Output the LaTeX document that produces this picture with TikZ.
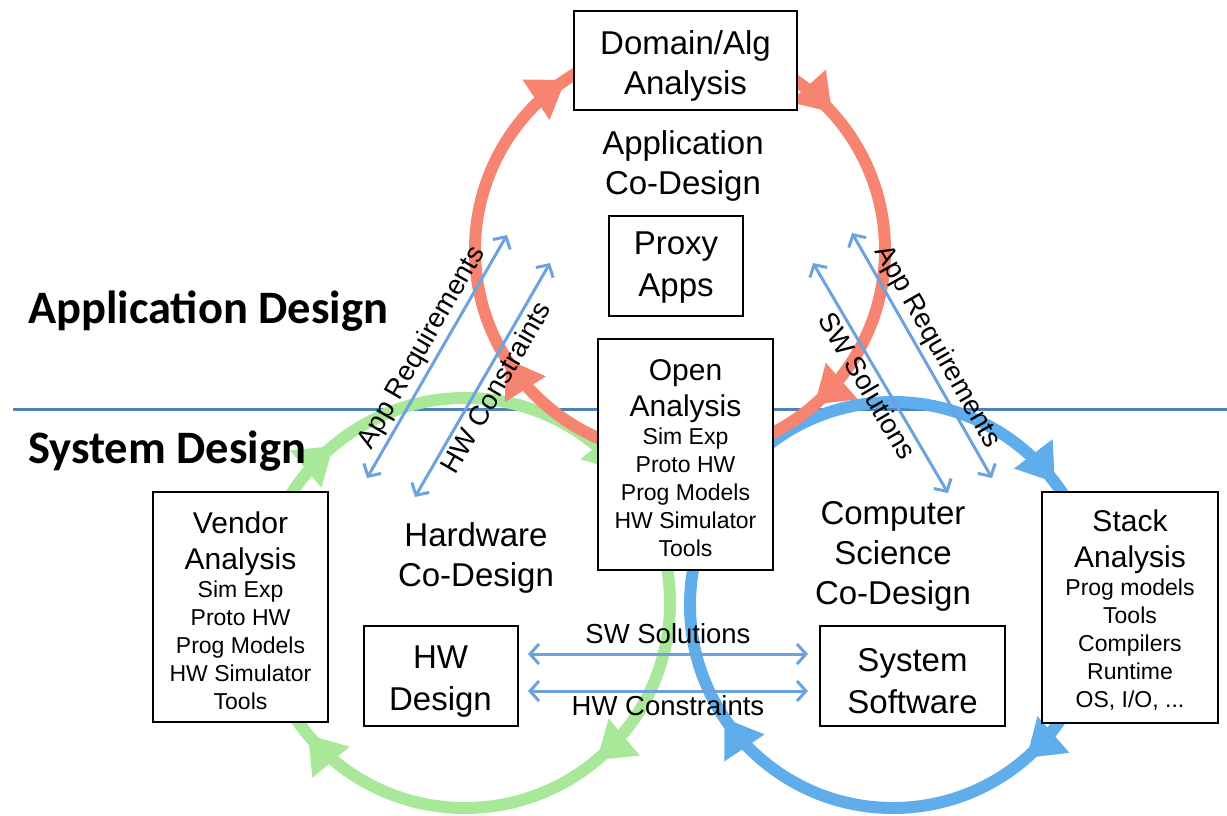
\documentclass[tikz,border=0pt]{standalone}
\usepackage{fontspec}
\setmainfont{Liberation Sans}
\newfontfamily\carlito{Carlito}
\usetikzlibrary{arrows.meta,decorations.markings}
\definecolor{redc}{RGB}{247,132,112}
\definecolor{greenc}{RGB}{168,232,152}
\definecolor{bluec}{RGB}{96,173,236}
\definecolor{arrc}{RGB}{108,162,222}
\definecolor{linec}{RGB}{79,129,189}
\newcommand\boxhead{\fontsize{30}{36}\selectfont}
\newcommand\boxsmall{\fontsize{23}{28}\selectfont}
\newcommand\boxbig{\fontsize{33}{40}\selectfont}
\newcommand\boxtxt[3]{\parbox{#1}{\centering\vspace*{#2}#3}}
\tikzset{
  ringtip/.tip={Triangle[length=36pt,width=46pt]},
  box/.style={draw=black, fill=white, line width=2pt, inner sep=0pt, align=center},
  big/.style={font=\fontsize{33}{40}\selectfont},
  lbl/.style={font=\fontsize{27.5}{33}\selectfont, inner sep=3pt},
  conn/.style={draw=arrc, line width=3pt, {Straight Barb[length=9pt,width=20pt]}-{Straight Barb[length=9pt,width=20pt]}},
  ring/.style={line width=12pt, postaction={decorate}},
  section/.style={font=\carlito\bfseries\fontsize{46.5}{56}\selectfont, anchor=base west, inner sep=0pt},
}
\begin{document}
\begin{tikzpicture}[x=1pt,y=-1pt]
\useasboundingbox (0,0) rectangle (1227,815);
% separator line
\draw[linec, line width=2.5pt] (13,409.5) -- (1227,409.5);
% green cycle (hardware), clockwise on the page
\draw[greenc, ring, decoration={markings,
  mark=at position 0.139 with {\arrow[greenc]{ringtip}},
  mark=at position 0.389 with {\arrow[greenc]{ringtip}},
  mark=at position 0.639 with {\arrow[greenc]{ringtip}},
  mark=at position 0.889 with {\arrow[greenc]{ringtip}}}]
  (465,603) ++(205,0) arc[start angle=0, end angle=360, radius=205];
% blue cycle (computer science)
\draw[bluec, ring, decoration={markings,
  mark=at position 0.136 with {\arrow[bluec]{ringtip}},
  mark=at position 0.406 with {\arrow[bluec]{ringtip}},
  mark=at position 0.639 with {\arrow[bluec]{ringtip}},
  mark=at position 0.897 with {\arrow[bluec]{ringtip}}}]
  (893,605) ++(203,0) arc[start angle=0, end angle=360, radius=203];
% red cycle (application)
\draw[redc, ring, decoration={markings,
  mark=at position 0.136 with {\arrow[redc]{ringtip}},
  mark=at position 0.411 with {\arrow[redc]{ringtip}},
  mark=at position 0.656 with {\arrow[redc]{ringtip}},
  mark=at position 0.883 with {\arrow[redc]{ringtip}}}]
  (680,250) ++(205,0) arc[start angle=0, end angle=360, radius=205];

% section labels
\node[section] (appdes) at (28,323) {Application Design};
\node[section] (sysdes) at (28,463) {System Design};

% boxes
\node[box, minimum width=223pt, minimum height=99pt] (dom) at (685.5,60.5)
  {\boxtxt{215pt}{11pt}{\boxbig Domain/Alg\\Analysis}};
\node[big, align=center] (appcd) at (683,166) {Application\\Co-Design};
\node[box, minimum width=134pt, minimum height=100pt] (proxy) at (676,266)
  {\boxtxt{128pt}{4pt}{\fontsize{33}{42}\selectfont Proxy\\Apps}};
\node[box, minimum width=175pt, minimum height=231pt] (open) at (685.5,454.5)
  {\boxtxt{170pt}{8pt}{\boxhead Open\\Analysis\par\boxsmall Sim Exp\\Proto HW\\Prog Models\\HW Simulator\\Tools}};
\node[box, minimum width=175pt, minimum height=230pt] (vendor) at (240.5,607)
  {\boxtxt{170pt}{7pt}{\boxhead Vendor\\Analysis\par\boxsmall Sim Exp\\Proto HW\\Prog Models\\HW Simulator\\Tools}};
\node[box, minimum width=176pt, minimum height=231pt] (stack) at (1130,607.5)
  {\boxtxt{170pt}{6pt}{\boxhead Stack\\Analysis\par\boxsmall Prog models\\Tools\\Compilers\\Runtime\\OS, I/O, ...}};
\node[big, align=center] (hwcd) at (476,558) {Hardware\\Co-Design};
\node[big, align=center] (cscd) at (893,556) {Computer\\Science\\Co-Design};
\node[box, minimum width=154pt, minimum height=100pt] (hwd) at (440.5,676)
  {\boxtxt{148pt}{11pt}{\fontsize{33}{42}\selectfont HW\\Design}};
\node[box, minimum width=185pt, minimum height=100pt] (sys) at (912.5,676)
  {\boxtxt{180pt}{11pt}{\fontsize{33}{42}\selectfont System\\Software}};

% connector end points
\coordinate (hs1) at (528,654);  \coordinate (hs2) at (808,654);
\coordinate (hc1) at (528,691);  \coordinate (hc2) at (808,691);
\coordinate (la1) at (367,478);  \coordinate (la2) at (507,235);
\coordinate (lh1) at (415,497);  \coordinate (lh2) at (550,263);
\coordinate (rs1) at (813,263);  \coordinate (rs2) at (948,493);
\coordinate (ra1) at (852,233);  \coordinate (ra2) at (992,478);

% connectors
\draw[conn] (hs1) -- node[lbl, midway, above=6pt, text=black] (lsw) {SW Solutions} (hs2);
\draw[conn] (hc1) -- node[lbl, midway, below=0pt, text=black] (lhc) {HW Constraints} (hc2);
\draw[conn] (la1) -- node[lbl, midway, sloped, above=0pt, text=black] (lla) {App Requirements} (la2);
\draw[conn] (lh1) -- node[lbl, midway, sloped, below=0pt, text=black] (llh) {HW Constraints} (lh2);
\draw[conn] (rs1) -- node[lbl, midway, sloped, below=0pt, text=black] (lrs) {SW Solutions} (rs2);
\draw[conn] (ra1) -- node[lbl, midway, sloped, above=0pt, text=black] (lra) {App Requirements} (ra2);
\end{tikzpicture}
\end{document}
